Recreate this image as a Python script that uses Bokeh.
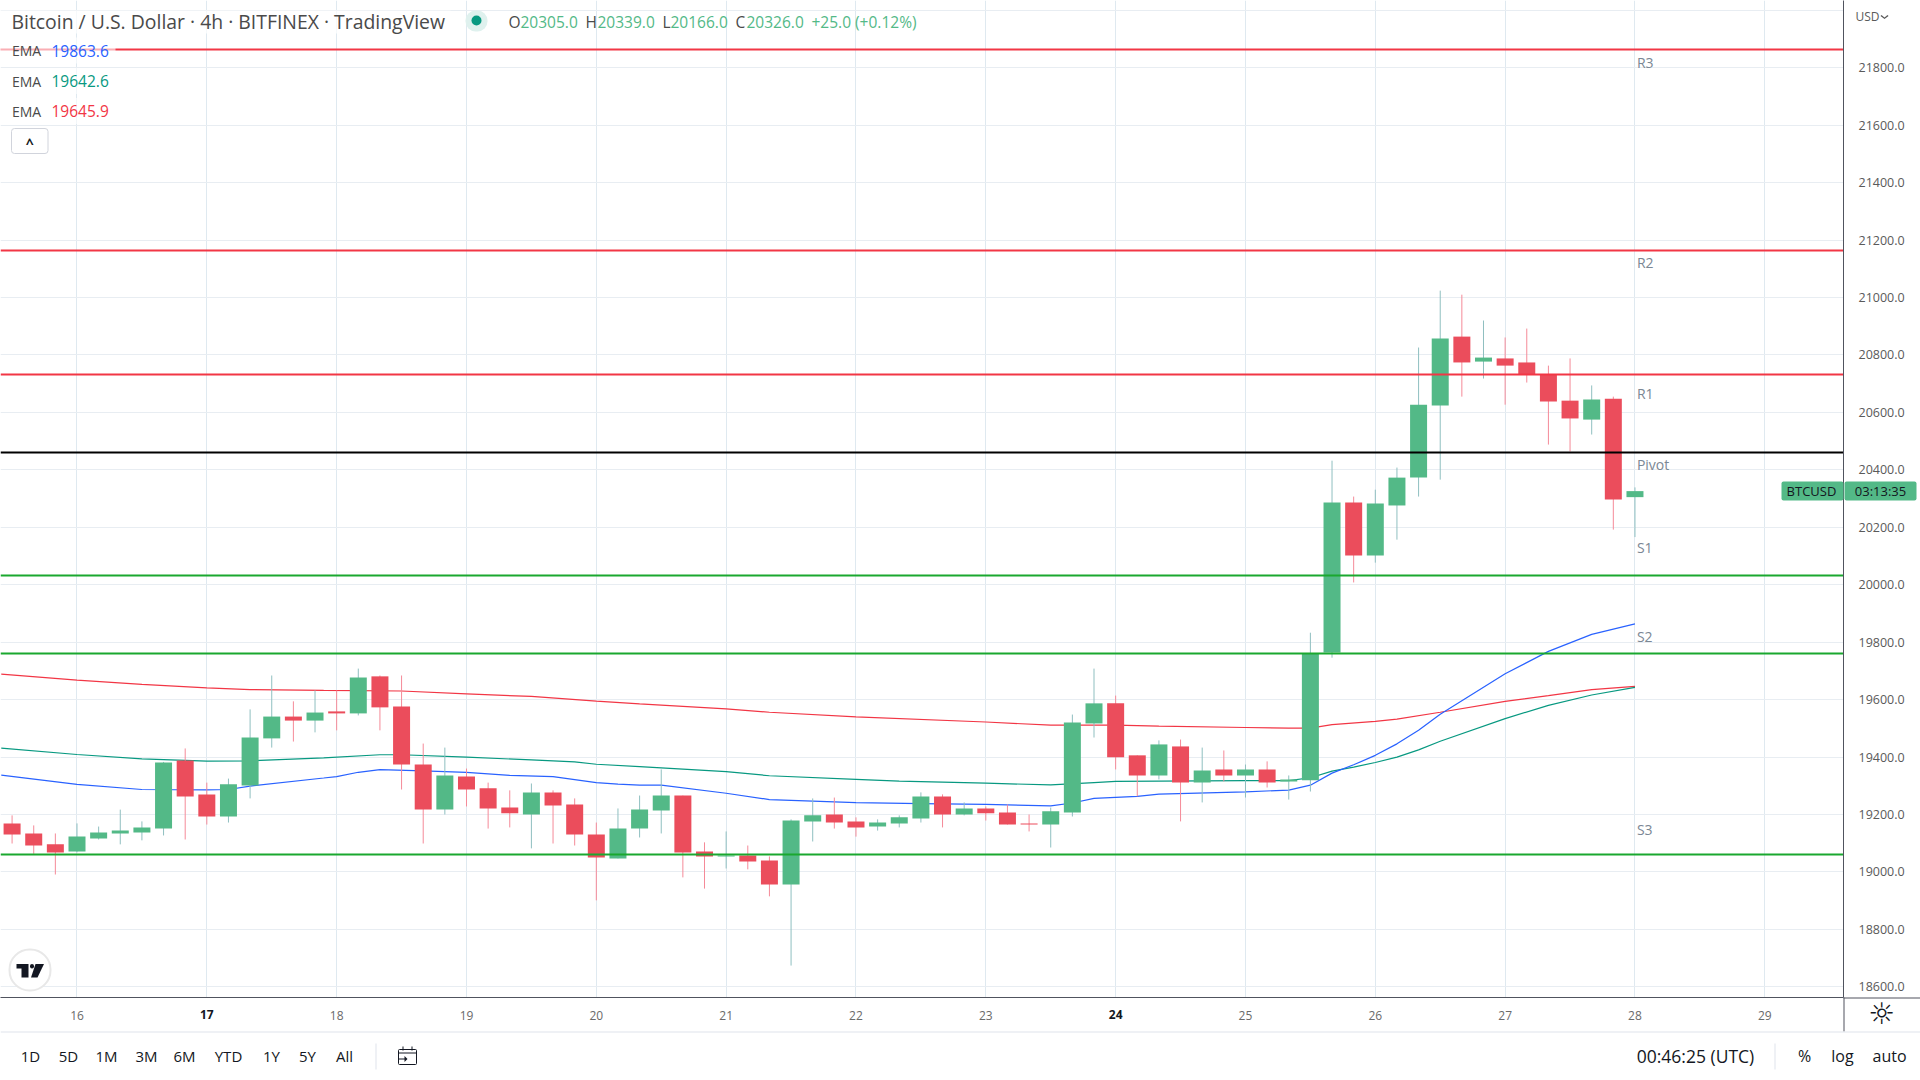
from bokeh.plotting import figure
from bokeh.models import (Range1d, FixedTicker, NumeralTickFormatter, ColumnDataSource, Label,
                          BoxAnnotation, PolyAnnotation)
from bokeh.core.properties import value
from bokeh.embed import file_html
from bokeh.resources import INLINE

# ---------- data (USD) ----------
first_candle_pos = -3   # candles per 4h, position 0 = start of the 16th
candle_high = [19197,19162,19134,19169,19158,19217,19176,19383,19430,19311,19325,19566,19684,19594,19632,19632,19708,19684,19684,19447,19433,19360,19311,19284,19308,19284,19256,19172,19221,19266,19357,19266,19103,19141,19092,19054,19183,19256,19259,19190,19183,19197,19277,19270,19242,19228,19235,19200,19224,19548,19708,19614,19406,19458,19461,19433,19423,19374,19385,19336,19833,20432,20307,20331,20408,20826,21024,21010,20920,20861,20892,20763,20788,20694,20655,20339]
candle_open = [19169,19134,19096,19071,19116,19134,19137,19151,19388,19270,19193,19301,19465,19541,19527,19559,19552,19681,19576,19374,19217,19332,19291,19224,19200,19277,19235,19130,19047,19151,19214,19266,19071,19054,19057,19040,18956,19176,19200,19176,19158,19169,19186,19263,19200,19221,19207,19169,19165,19207,19517,19587,19406,19336,19437,19311,19357,19336,19357,19315,19319,19764,20286,20102,20276,20373,20624,20864,20777,20788,20774,20732,20641,20575,20648,20305]
candle_close = [19130,19092,19068,19123,19137,19144,19155,19381,19263,19193,19305,19468,19541,19527,19555,19552,19677,19573,19374,19217,19336,19287,19221,19204,19277,19231,19130,19050,19151,19217,19266,19068,19054,19057,19036,18956,19179,19197,19172,19155,19172,19190,19263,19200,19221,19204,19165,19165,19211,19520,19587,19399,19336,19444,19311,19353,19336,19357,19311,19322,19760,20286,20102,20283,20373,20627,20857,20774,20791,20763,20732,20638,20579,20645,20297,20326]
candle_low = [19099,19063,18991,19068,19113,19096,19110,19127,19113,19165,19172,19256,19433,19454,19486,19493,19545,19493,19287,19099,19200,19228,19151,19155,19082,19099,19092,18901,19047,19120,19134,18981,18942,19012,19009,18915,18674,19106,19151,19123,19144,19155,19172,19155,19197,19179,19165,19141,19085,19193,19468,19357,19263,19322,19176,19242,19315,19259,19294,19252,19280,19746,20008,20077,20157,20307,20366,20655,20718,20627,20704,20488,20464,20523,20192,20166]

ema_red_pos = [-3.5,0,3,6,8,11.4,15,18,21,24,26,30,32,36,42,45,48,50,54,56,57,58,60,61,63,66,68,70,72]
ema_red = [19689,19668,19653,19641,19635,19632,19630,19620,19611,19595,19585,19568,19556,19540,19522,19511,19511,19508,19503,19501,19501,19513,19524,19532,19556,19594,19614,19635,19645.9]
ema_green_pos = [-3.5,0,3,6,8,11.4,14,15,18,21,23,24,26,30,32,36,38,42,45,47,48,54,56,57,58,59,60,61,62,63,66,68,70,72]
ema_green = [19431,19409,19394,19386,19387,19397,19408,19408,19400,19390,19383,19375,19367,19349,19335,19322,19316,19309,19303,19311,19315,19318,19318,19328,19351,19365,19381,19400,19425,19455,19534,19580,19616,19642.6]
ema_blue_pos = [-3.5,0,3,6,7,8,11.4,12,13,14,16,18,20,22,24,25,26,27,30,32,36,39,42,45,46,47,49,50,54,56,57,58,59,60,61,62,63,66,68,70,72]
ema_blue = [19337,19305,19287,19286,19287,19299,19327,19332,19347,19356,19352,19347,19336,19332,19311,19306,19302,19302,19274,19252,19241,19238,19235,19230,19240,19256,19263,19271,19279,19285,19302,19344,19373,19406,19446,19493,19549,19690,19768,19827,19863.6]

pivot_names = ["R3","R2","R1","Pivot","S1","S2","S3"]
pivot_levels = [21865,21165,20732,20460,20033,19761,19061]
pivot_colors = ["#f23645","#f23645","#f23645","#000000","#1aa82f","#1aa82f","#1aa82f"]
pivot_label_prices = [21817,21123,20666,20419,20128,19821,19148]

price_ticks = [18600,18800,19000,19200,19400,19600,19800,20000,20200,20400,20600,20800,21000,21200,21400,21600,21800]
grid_only_prices = [22000]
day_ticks = [16,17,18,19,20,21,22,23,24,25,26,27,28,29]
bold_days = [17,24]
range_buttons = ["1D","5D","1M","3M","6M","YTD","1Y","5Y","All"]

# ---------- colours ----------
UP, DOWN = "#53b987", "#eb4d5c"
UP_WICK, DOWN_WICK = "#8fbfc0", "#f58a98"
GRID_H, GRID_V = "#e8edf2", "#dfe9f0"
FONT = "Open Sans"

def day_of(pos):
    return 16 + pos / 6

n = len(candle_open)
xs = [day_of(first_candle_pos + i) for i in range(n)]
up = [c >= o for o, c in zip(candle_open, candle_close)]
src = ColumnDataSource(dict(
    x=xs, high=candle_high, low=candle_low,
    top=[max(o, c) for o, c in zip(candle_open, candle_close)],
    bottom=[min(o, c) for o, c in zip(candle_open, candle_close)],
    body=[UP if u else DOWN for u in up],
    wick=[UP_WICK if u else DOWN_WICK for u in up],
))

p = figure(width=1920, height=1080, output_backend="svg", toolbar_location=None,
           x_range=Range1d(15.4108, 29.6062), y_range=Range1d(18562.8, 22034.3),
           y_axis_location="right", min_border_left=0, min_border_top=0,
           min_border_right=77, min_border_bottom=83, outline_line_color=None,
           background_fill_color="white", border_fill_color="white")

# grid
p.xgrid.ticker = FixedTicker(ticks=day_ticks)
p.ygrid.ticker = FixedTicker(ticks=price_ticks + grid_only_prices)
p.xgrid.grid_line_color = GRID_V
p.ygrid.grid_line_color = GRID_H
p.xgrid.grid_line_width = 1
p.ygrid.grid_line_width = 1

# axes
ax = p.yaxis[0]
ax.ticker = FixedTicker(ticks=price_ticks)
ax.formatter = NumeralTickFormatter(format="0.0")
ax.major_tick_line_color = None
ax.minor_tick_line_color = None
ax.axis_line_color = "#50535e"
ax.axis_line_width = 1
ax.major_label_text_font = FONT
ax.major_label_text_font_size = "12.5px"
ax.major_label_text_color = "#5a5a5a"
ax.major_label_standoff = 9

bx = p.xaxis[0]
bx.ticker = FixedTicker(ticks=day_ticks)
bx.major_label_overrides = {d: "" for d in bold_days}
bx.major_tick_line_color = None
bx.minor_tick_line_color = None
bx.axis_line_color = "#50535e"
bx.axis_line_width = 1
bx.major_label_text_font = FONT
bx.major_label_text_font_size = "12px"
bx.major_label_text_color = "#6a6a6a"
bx.major_label_standoff = 7

# EMAs under the candles
p.line([day_of(v) for v in ema_red_pos], ema_red, line_color="#f23645", line_width=1.2)
p.line([day_of(v) for v in ema_green_pos], ema_green, line_color="#089981", line_width=1.2)
p.line([day_of(v) for v in ema_blue_pos], ema_blue, line_color="#2962ff", line_width=1.2)

# candles
p.segment("x", "high", "x", "low", source=src, line_color="wick", line_width=1)
p.vbar("x", width=17 / 129.83, top="top", bottom="bottom", source=src,
       fill_color="body", line_color=None)

# pivots
p.hspan(y=pivot_levels, line_color=pivot_colors, line_width=2)
p.text(x=[day_of(72.09)] * len(pivot_names), y=pivot_label_prices, text=pivot_names,
       text_font=value(FONT), text_font_size="14px", text_color="#7b8794",
       text_baseline="middle", text_align="left")

# ---------- transparent overlay for the page furniture, in window pixels ----------
ov = figure(width=1920, height=1080, output_backend="svg", toolbar_location=None,
            x_range=Range1d(0, 1920), y_range=Range1d(1080, 0),
            min_border_left=0, min_border_top=0, min_border_right=0, min_border_bottom=0,
            x_axis_location=None, y_axis_location=None, outline_line_color=None,
            background_fill_alpha=0, border_fill_alpha=0,
            styles={"position": "absolute", "top": "0px", "left": "0px"})
ov.grid.visible = False

def T(text, x, y, size=14, color="#131722", align="left", style="normal", font=FONT):
    ov.add_layout(Label(x=x, y=y, text=text, text_font=font, text_font_size=f"{size}px",
                        text_color=color, text_align=align, text_baseline="middle",
                        text_font_style=style))

def B(l, r, t, b, fill="white", line=None, radius=0, alpha=1.0, lw=1):
    ov.add_layout(BoxAnnotation(left=l, right=r, top=t, bottom=b, fill_color=fill, fill_alpha=alpha,
                                line_color=line, line_width=lw, line_alpha=1 if line else 0,
                                border_radius=radius))

def P(xs_, ys_, fill="#131722"):
    ov.add_layout(PolyAnnotation(xs=xs_, ys=ys_, fill_color=fill, fill_alpha=1, line_color=None))

# bold day labels
for d in bold_days:
    T(str(d), 76.5 + (d - 16) * 129.83, 1014, size=12, color="#131722", align="center", style="bold")

# dividers
B(1843, 1844, 997, 1031, fill="#50535e")
B(1843, 1920, 997, 998, fill="#50535e")
B(0, 1920, 1031, 1032, fill="#e0e3eb")
B(375, 376, 1043, 1069, fill="#e0e3eb")
B(1774, 1775, 1043, 1069, fill="#e0e3eb")

# title and OHLC
B(0, 450, 10, 33, alpha=0.7)
T("Bitcoin / U.S. Dollar · 4h · BITFINEX · TradingView", 11, 21, size=19.4, color="#4a4a4a")
B(465, 487, 10, 31, fill="#dff1ee", radius=10)
B(471, 481, 15, 25, fill="#089981", radius=5)
for txt, x in [("O", 508), ("H", 585), ("L", 662), ("C", 735)]:
    T(txt, x, 21, size=15.5, color="#4a4a4a")
for txt, x in [("20305.0", 520), ("20339.0", 597), ("20166.0", 670), ("20326.0", 746),
               ("+25.0 (+0.12%)", 811)]:
    T(txt, x, 21, size=15.5, color=UP)

# EMA legend
for y, val, col in [(50, "19863.6", "#2962ff"), (80.5, "19642.6", "#089981"), (110.5, "19645.9", "#f23645")]:
    B(0, 115, y - 13, y + 13, alpha=0.6)
    T("EMA", 11.5, y, size=14, color="#4a4a4a")
    T(val, 51, y, size=15.5, color=col)

# collapse button
B(11, 47.5, 128, 153, fill="white", line="#d1d4dc", radius=3)
T("^", 29.3, 143, size=14, color="#131722", align="center", style="bold")

# logo
B(9, 50, 949, 990, fill="white", line="#e8e8e8", radius=20, lw=2)
P([16, 28, 28, 21, 21, 16], [963.5, 963.5, 977, 977, 968, 968])
B(29.5, 33.5, 963.5, 968, fill="#131722", radius=2)
P([35, 43.5, 37, 30.5], [963.5, 963.5, 977, 977])

# price tag
B(1781, 1843, 481, 500, fill=UP, radius=2)
B(1844, 1916, 481, 500, fill=UP, radius=2)
T("BTCUSD", 1811, 490.5, size=13, color="#131722", align="center")
T("03:13:35", 1880, 490.5, size=13, color="#131722", align="center")

# right axis extras
T("USD", 1855, 16, size=12, color="#5a5a5a")
P([1881, 1884, 1887, 1888, 1884, 1880], [14.5, 17, 14.5, 15.5, 18.5, 15.5], fill="#5a5a5a")
T("☼", 1881, 1013, size=30, color="#131722", align="center", font="DejaVu Sans")

# bottom bar
for txt, x in zip(range_buttons, [30, 68, 106, 146, 184, 228, 271, 307, 344]):
    T(txt, x, 1055, size=15, color="#131722", align="center")
T("00:46:25 (UTC)", 1695, 1055, size=17.5, color="#131722", align="center")
T("%", 1804, 1055, size=16, color="#131722", align="center")
T("log", 1842, 1055, size=16, color="#131722", align="center")
T("auto", 1889, 1055, size=16, color="#131722", align="center")

# calendar icon
B(398, 416, 1049, 1064, fill="white", line="#131722", radius=1)
B(398, 416, 1052, 1053, fill="#131722")
B(402, 403, 1046, 1050, fill="#131722")
B(411, 412, 1046, 1050, fill="#131722")
P([398, 405, 405, 398], [1058, 1058, 1059, 1059])
P([404, 407, 404], [1055.5, 1058.5, 1061.5])

open("out.html", "w").write(file_html([p, ov], INLINE))
